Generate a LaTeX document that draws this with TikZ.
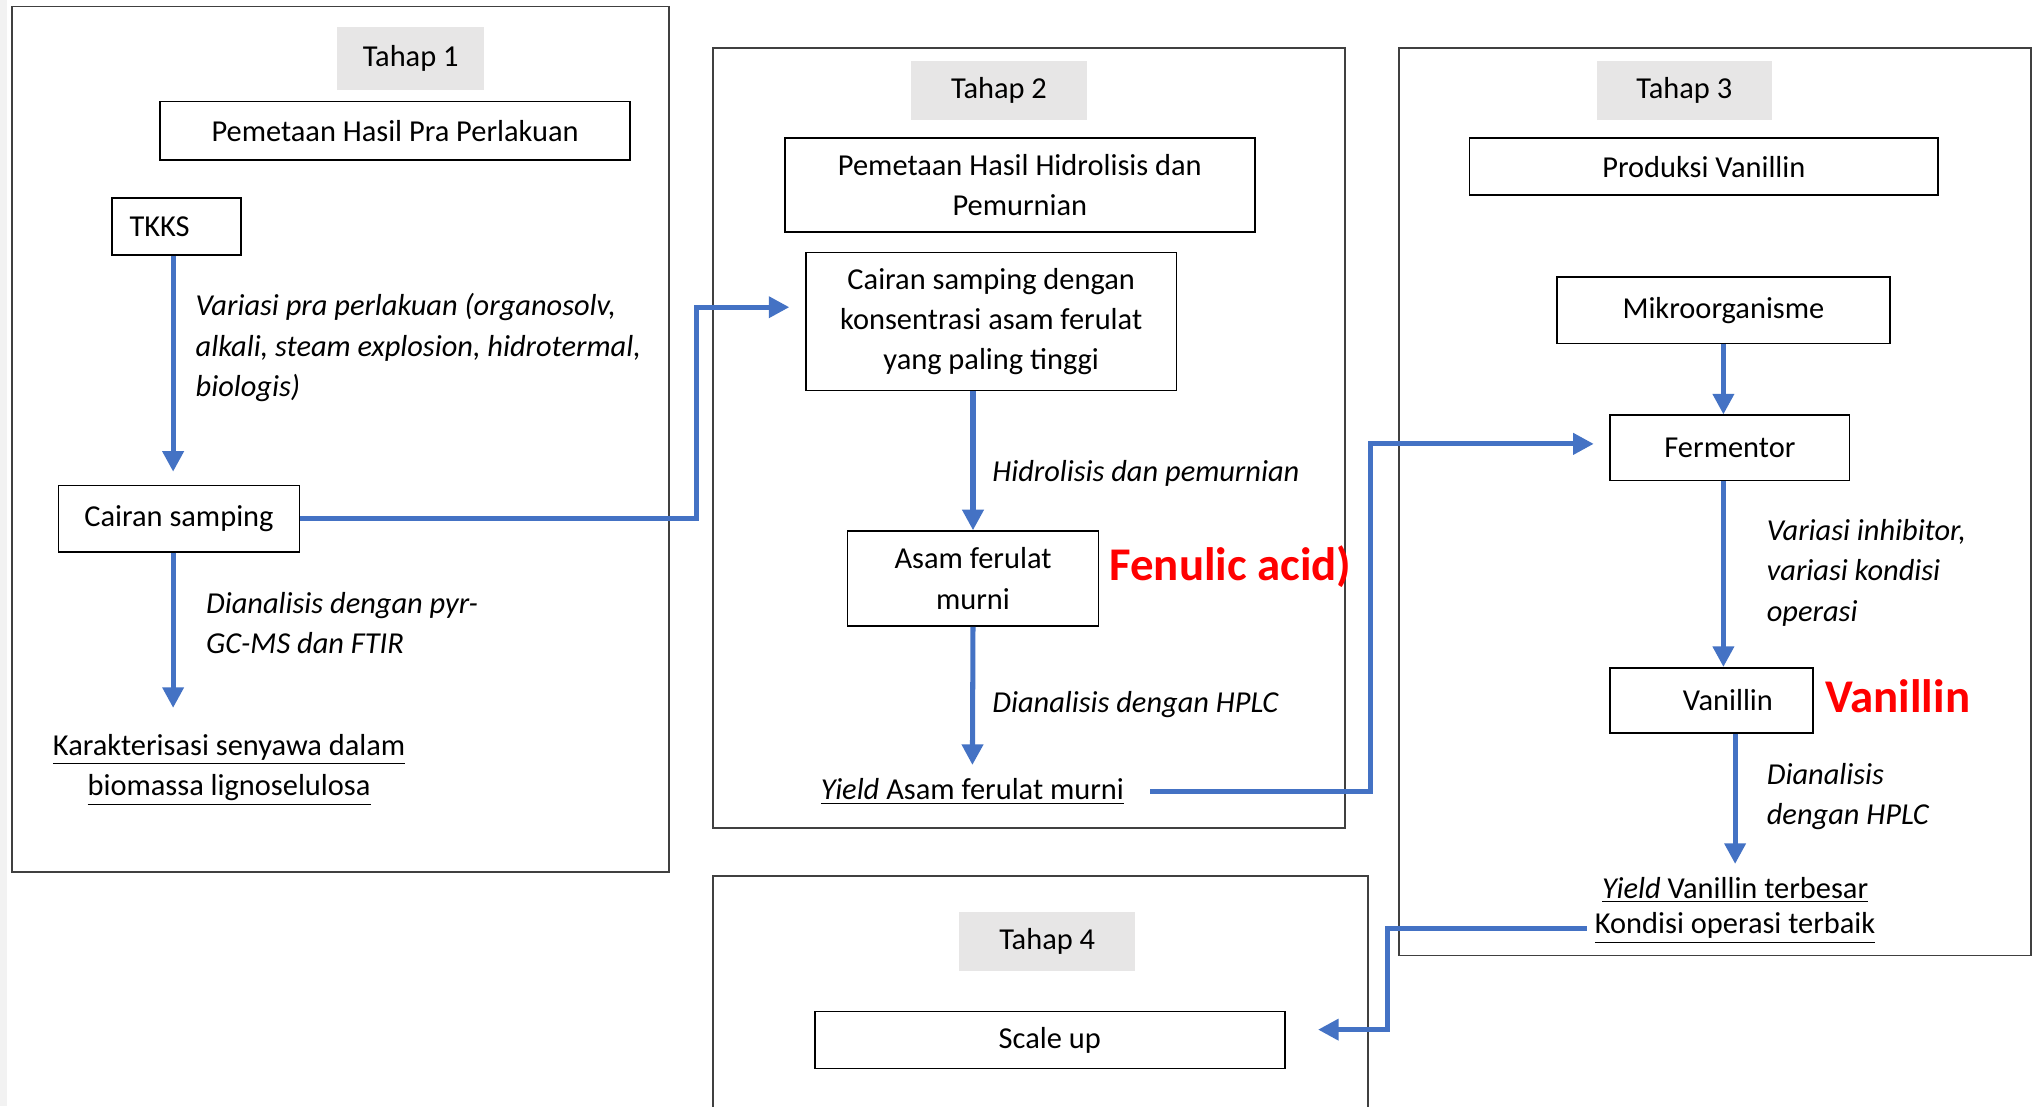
\documentclass[tikz,border=0pt]{standalone}
\usepackage{fontspec}
\setmainfont{Carlito}
\usetikzlibrary{arrows.meta}
\definecolor{flowblue}{HTML}{4472C4}
\definecolor{stagefill}{HTML}{E7E6E6}
\definecolor{framegray}{HTML}{404040}
\newcommand{\bodyfont}{\fontsize{13.3}{17.6}\selectfont}
\newcommand{\notefont}{\fontsize{20.5}{24}\selectfont\bfseries}
\tikzset{
  box/.style={draw=black, line width=0.7pt, align=center, inner sep=2pt, font=\bodyfont},
  stagelabel/.style={fill=stagefill, minimum width=2.7cm, minimum height=0.9cm, inner sep=0pt, font=\bodyfont},
  stepnote/.style={anchor=west, align=left, inner sep=0pt, font=\bodyfont\itshape},
  result/.style={align=center, inner sep=0pt, font=\bodyfont},
  rednote/.style={anchor=west, inner sep=0pt, text=red, font=\notefont},
  flow/.style={draw=flowblue, line width=2.2pt, -{Triangle[width=9pt,length=9pt]}},
  frame/.style={draw=framegray, line width=0.8pt},
}

\begin{document}
\begin{tikzpicture}[x=0.02cm, y=-0.02cm]
    \useasboundingbox (0,0) rectangle (1568,850);
    \clip (0,0) rectangle (1568,850);
    \fill[white] (0,0) rectangle (1568,850);
    \fill[gray!10] (0,0) rectangle (5,850);
    % frames of the four stages
    \draw[frame] (9,5) rectangle (514,670);
    \draw[frame] (548,37) rectangle (1033,636);
    \draw[frame] (1075,37) rectangle (1560,734);
    \draw[frame] (548,673) rectangle (1051,900);
    % Tahap 1
    \node[stagelabel, minimum width=2.26cm, minimum height=0.96cm] (lab1) at (315.5,45) {Tahap 1};
    \node[box, minimum width=7.22cm, minimum height=0.9cm] (map1) at (303.5,100.5) {Pemetaan Hasil Pra Perlakuan};
    \node[box, align=left, text width=1.44cm, inner xsep=0.27cm, minimum height=0.88cm] (tkks) at (135.5,174) {TKKS};
    \node[box, minimum width=3.7cm, minimum height=1.02cm] (cs) at (137.5,398.5) {Cairan samping};
    \node[result] (kar) at (176,591.5) {\underline{Karakterisasi senyawa dalam}\\\underline{biomassa lignoselulosa}};
    \node[stepnote] (n1) at (150,267) {Variasi pra perlakuan (organosolv,\\alkali, steam explosion, hidrotermal,\\biologis)};
    \node[stepnote] (n2) at (158,478.5) {Dianalisis dengan pyr-\\GC-MS dan FTIR};
    % Tahap 2
    \node[stagelabel] (lab2) at (767.5,69.5) {Tahap 2};
    \node[box, minimum width=7.22cm, minimum height=1.44cm] (map2) at (783.5,142) {Pemetaan Hasil Hidrolisis dan\\Pemurnian};
    \node[box, minimum width=5.7cm, minimum height=2.12cm] (c2) at (761.5,247) {Cairan samping dengan\\konsentrasi asam ferulat\\yang paling tinggi};
    \node[box, minimum width=3.86cm, minimum height=1.46cm] (asam) at (747.5,444.5) {Asam ferulat\\murni};
    \node[rednote] (red1) at (852,435) {Fenulic acid)};
    \node[result] (yieldA) at (747,608) {\underline{\textit{Yield} Asam ferulat murni}};
    \node[stepnote] (n3) at (762,364) {Hidrolisis dan pemurnian};
    \node[stepnote] (n4) at (762,541) {Dianalisis dengan HPLC};
    % Tahap 3
    \node[stagelabel, minimum width=2.68cm] (lab3) at (1294,69.5) {Tahap 3};
    \node[box, minimum width=7.2cm, minimum height=0.88cm] (prod) at (1309,128) {Produksi Vanillin};
    \node[box, minimum width=5.12cm, minimum height=1.02cm] (mikro) at (1324,238.5) {Mikroorganisme};
    \node[box, minimum width=3.68cm, minimum height=1cm] (ferm) at (1329,344) {Fermentor};
    \node[box, minimum width=3.12cm, minimum height=1cm] (van) at (1315,538) {\hspace*{0.5cm}Vanillin};
    \node[rednote] (red2) at (1402,535) {Vanillin};
    \node[result] (yieldV) at (1333,684) {\underline{\textit{Yield} Vanillin terbesar}};
    \node[result] (kond) at (1333,713) {\underline{Kondisi operasi terbaik}};
    \node[stepnote] (n5) at (1357,440) {Variasi inhibitor,\\variasi kondisi\\operasi};
    \node[stepnote] (n6) at (1357,612) {Dianalisis\\dengan HPLC};
    % Tahap 4
    \node[stagelabel] (lab4) at (804.5,723.5) {Tahap 4};
    \node[box, minimum width=7.22cm, minimum height=0.88cm] (scale) at (806.5,799) {Scale up};
    % connectors
    \coordinate (bend1) at (535,236);
    \coordinate (bend2) at (1053,341);
    \coordinate (bend3) at (1066,791);
    \draw[flow, shorten >=0.2cm] ([xshift=-0.05cm]tkks.south) -- ([xshift=-0.05cm]tkks.south |- cs.north);
    \draw[flow, shorten >=0.4cm] ([xshift=-0.05cm]cs.south -| tkks.south) -- ([xshift=-0.05cm]tkks.south |- kar.north);
    \draw[flow, shorten >=0.24cm] (cs.east) -| (bend1) -- (c2.west |- bend1);
    \draw[flow] (asam.north |- c2.south) -- (asam.north);
    \draw[flow, shorten >=0.2cm] (asam.south) -- (yieldA.north);
    \draw[flow, shorten <=0.4cm, shorten >=0.24cm] (yieldA.east) -| (bend2) -- (ferm.west |- bend2);
    \draw[flow] (mikro.south) -- (mikro.south |- ferm.north);
    \draw[flow] (ferm.south -| mikro.south) -- (mikro.south |- van.north);
    \draw[flow, shorten >=0.2cm] (yieldV.north |- van.south) -- (yieldV.north);
    \draw[flow, shorten <=0.12cm, shorten >=0.5cm] (kond.west) -| (bend3) -- (scale.east |- bend3);
\end{tikzpicture}
\end{document}
